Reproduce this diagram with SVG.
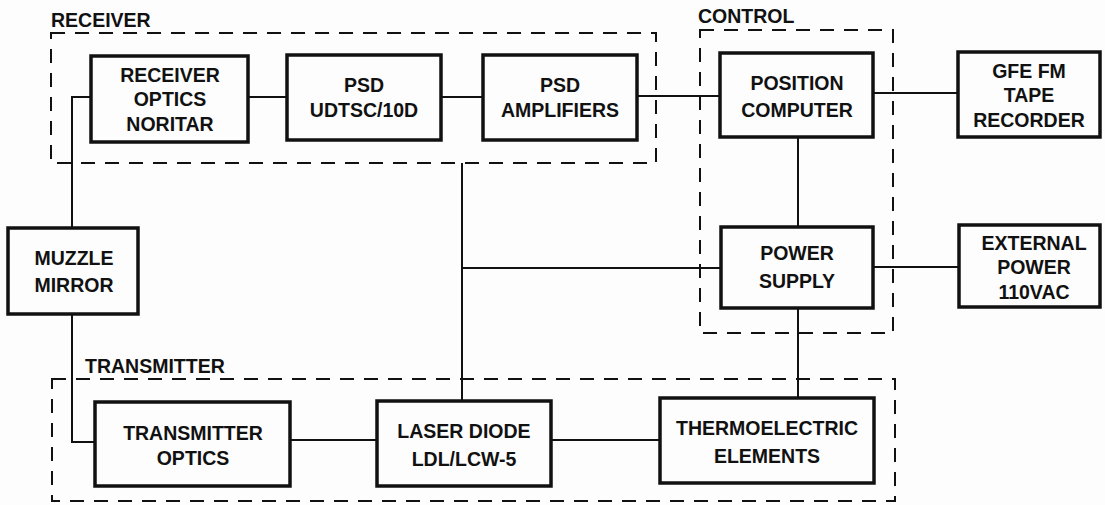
<svg xmlns="http://www.w3.org/2000/svg" width="1105" height="505" viewBox="0 0 1105 505">
<style>
.bg{fill:#fdfdfd}
.box{fill:none;stroke:#111;stroke-width:3.5}
.grp{fill:none;stroke:#111;stroke-width:2;stroke-dasharray:14 10}
.wire{fill:none;stroke:#111;stroke-width:2}
text{font-family:"Liberation Sans",Arial,sans-serif;font-weight:bold;fill:#111;font-size:19.5px}
.c{text-anchor:middle}
.lbl{font-size:19.5px}
</style>
<rect class="bg" x="0" y="0" width="1105" height="505"/>
<g id="groups">
<rect class="grp" x="51" y="33" width="605" height="130"/>
<text class="lbl" x="51" y="27">RECEIVER</text>
<rect class="grp" x="700" y="30" width="193" height="303"/>
<text class="lbl" x="698" y="23">CONTROL</text>
<rect class="grp" x="52" y="379" width="843" height="122"/>
<text class="lbl" x="85" y="373">TRANSMITTER</text>
</g>
<g id="connectors">
<path class="wire" d="M248 97 H287"/>
<path class="wire" d="M441 97 H483"/>
<path class="wire" d="M637 96 H720"/>
<path class="wire" d="M873 93 H958"/>
<path class="wire" d="M798 137 V227"/>
<path class="wire" d="M873 267 H959"/>
<path class="wire" d="M798 308 V398"/>
<path class="wire" d="M462 163 V401"/>
<path class="wire" d="M462 268 H721"/>
<path class="wire" d="M91 97 H72 V228"/>
<path class="wire" d="M72 314 V442 H95"/>
<path class="wire" d="M290 440 H377"/>
<path class="wire" d="M551 440 H660"/>
</g>
<g id="receiver-optics">
<rect class="box" x="91" y="56" width="157" height="86"/>
<text class="c" x="170" y="82">RECEIVER</text>
<text class="c" x="170" y="106">OPTICS</text>
<text class="c" x="170" y="131">NORITAR</text>
</g>
<g id="psd">
<rect class="box" x="287" y="55" width="154" height="85"/>
<text class="c" x="364" y="92">PSD</text>
<text class="c" x="364" y="117">UDTSC/10D</text>
</g>
<g id="psd-amplifiers">
<rect class="box" x="483" y="55" width="154" height="85"/>
<text class="c" x="560" y="92">PSD</text>
<text class="c" x="560" y="117">AMPLIFIERS</text>
</g>
<g id="position-computer">
<rect class="box" x="720" y="53" width="153" height="84"/>
<text class="c" x="797" y="90">POSITION</text>
<text class="c" x="797" y="117">COMPUTER</text>
</g>
<g id="tape-recorder">
<rect class="box" x="958" y="52" width="142" height="85"/>
<text class="c" x="1029" y="78">GFE FM</text>
<text class="c" x="1029" y="102">TAPE</text>
<text class="c" x="1029" y="127">RECORDER</text>
</g>
<g id="power-supply">
<rect class="box" x="721" y="227" width="152" height="81"/>
<text class="c" x="797" y="260">POWER</text>
<text class="c" x="797" y="288">SUPPLY</text>
</g>
<g id="external-power">
<rect class="box" x="959" y="225" width="141" height="82"/>
<text class="c" x="1034" y="250">EXTERNAL</text>
<text class="c" x="1034" y="274">POWER</text>
<text class="c" x="1034" y="299">110VAC</text>
</g>
<g id="muzzle-mirror">
<rect class="box" x="8" y="228" width="130" height="86"/>
<text class="c" x="74" y="265">MUZZLE</text>
<text class="c" x="74" y="292">MIRROR</text>
</g>
<g id="transmitter-optics">
<rect class="box" x="95" y="402" width="195" height="84"/>
<text class="c" x="193" y="440">TRANSMITTER</text>
<text class="c" x="193" y="465">OPTICS</text>
</g>
<g id="laser-diode">
<rect class="box" x="377" y="401" width="174" height="85"/>
<text class="c" x="464" y="438">LASER DIODE</text>
<text class="c" x="464" y="466">LDL/LCW-5</text>
</g>
<g id="thermoelectric">
<rect class="box" x="660" y="398" width="214" height="85"/>
<text class="c" x="767" y="435">THERMOELECTRIC</text>
<text class="c" x="767" y="463">ELEMENTS</text>
</g>
</svg>
